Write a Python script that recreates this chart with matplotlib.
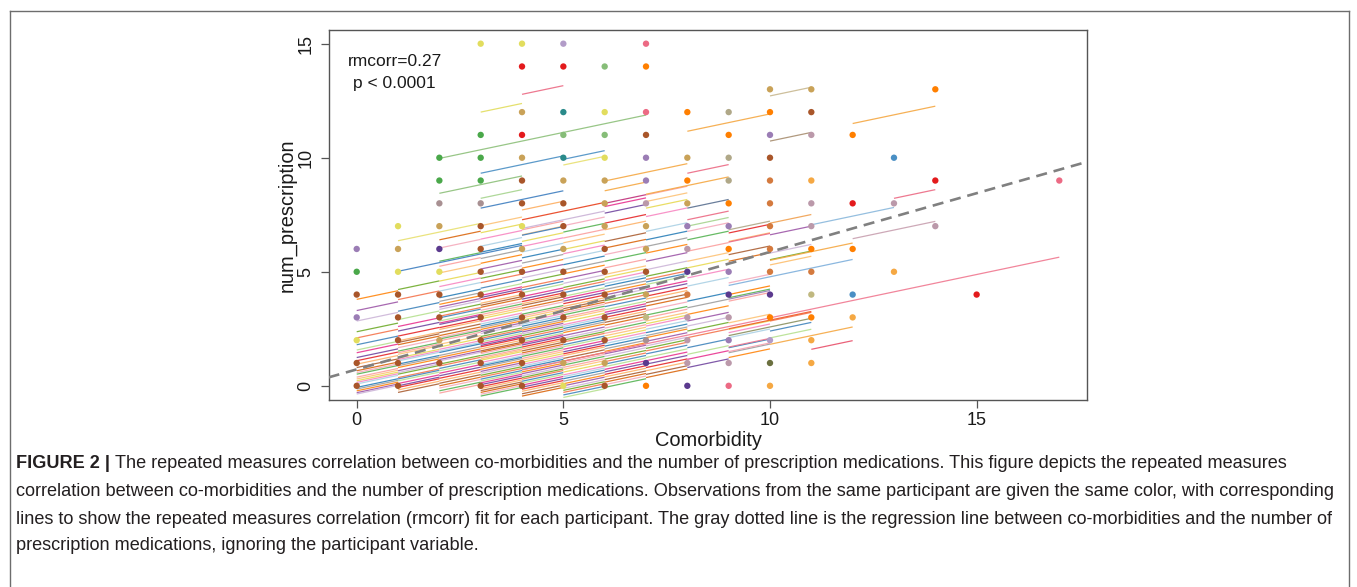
import matplotlib
matplotlib.use("Agg")
import matplotlib.pyplot as plt
from matplotlib.lines import Line2D

# ---------------- data ----------------
rm_label = "rmcorr=0.27"
p_label = "p < 0.0001"
rm_slope = 0.38          # common within-participant slope (rmcorr fit)
reg_intercept = 0.72     # overall regression (grey dashed)
reg_slope = 0.515

# observed points (top-most colour at each position)
dot_x = ([0]*7 + [1]*8 + [2]*10 + [3]*13 + [4]*15 + [5]*15 + [6]*14 + [7]*15 +
         [8]*12 + [9]*13 + [10]*14 + [11]*12 + [12]*5 + [13]*3 + [14]*3 + [15] + [17])
dot_y = ([0, 1, 2, 3, 4, 5, 6] +
         [0, 1, 2, 3, 4, 5, 6, 7] +
         [1, 2, 3, 4, 5, 6, 7, 8, 9, 10] +
         [0, 1, 2, 3, 4, 5, 6, 7, 8, 9, 10, 11, 15] +
         [0, 1, 2, 3, 4, 5, 6, 7, 8, 9, 10, 11, 12, 14, 15] +
         [0, 1, 2, 3, 4, 5, 6, 7, 8, 9, 10, 11, 12, 14, 15] +
         [0, 1, 2, 3, 4, 5, 6, 7, 8, 9, 10, 11, 12, 14] +
         [0, 1, 2, 3, 4, 5, 6, 7, 8, 9, 10, 11, 12, 14, 15] +
         [0, 1, 2, 3, 4, 5, 6, 7, 8, 9, 10, 12] +
         [0, 1, 2, 3, 4, 5, 6, 7, 8, 9, 10, 11, 12] +
         [0, 1, 2, 3, 4, 5, 6, 7, 8, 9, 10, 11, 12, 13] +
         [1, 2, 3, 4, 5, 6, 7, 8, 9, 11, 12, 13] +
         [3, 4, 6, 8, 11] +
         [5, 8, 10] +
         [7, 9, 13] +
         [4] + [9])
dot_key = (["br", "br", "yl", "pu", "br", "gn", "pu"] +
           ["br", "br", "br", "br", "br", "yl", "tn", "yl"] +
           ["br", "tn", "br", "br", "yl", "dp", "tn", "gb", "gn", "gn"] +
           ["br", "br", "br", "br", "br", "br", "br", "br", "gb", "gn", "gn", "gn", "yl"] +
           ["br", "br", "br", "br", "br", "br", "tn", "yl", "br", "br", "tn", "rd", "tn", "rd", "yl"] +
           ["yl", "tn", "br", "br", "br", "br", "tn", "br", "br", "tn", "tl", "lg", "tl", "rd", "lp"] +
           ["br", "tn", "br", "br", "br", "br", "br", "tn", "tn", "tn", "yl", "lg", "yl", "lg"] +
           ["or", "dp", "gb", "kh", "tn", "br", "tn", "tn", "gp", "pu", "pu", "br", "pk", "or", "pk"] +
           ["dp", "gp", "gp", "gp", "bo", "dp", "gp", "pu", "tn", "or", "tn", "or"] +
           ["pk", "gp", "pu", "gp", "dp", "pu", "or", "pu", "or", "gt", "gt", "or", "gt"] +
           ["lo", "ol", "lp", "or", "dp", "bo", "bo", "bo", "bo", "bo", "br", "pu", "or", "tn"] +
           ["lo", "lo", "or", "kh", "bo", "or", "gp", "gp", "lo", "gp", "br", "tn"] +
           ["lo", "bl", "or", "rd", "or"] +
           ["lo", "gp", "bl"] +
           ["gp", "rd", "or"] +
           ["rd"] + ["pk"])

# participant fit lines spanning one comorbidity step, by starting comorbidity
# (value = fitted num_prescription at the starting comorbidity)
dense_col0 = [3.79, 3.30, 2.84, 2.37, 2.10, 1.80, 1.57, 1.45, 1.24, 1.10, 0.95, 0.80, 0.66, 0.58, 0.51, 0.38,
              0.30, 0.22, 0.15, 0.08, -0.07, -0.14, -0.22, -0.30, -0.36]
dense_col1 = [4.22, 3.78, 3.27, 2.90, 2.60, 2.40, 2.18, 1.97, 1.90, 1.80, 1.67, 1.52, 1.45, 1.38, 1.22, 1.15,
              1.09, 0.95, 0.88, 0.80, 0.66, 0.58, 0.51, 0.36, 0.30, 0.22, 0.10, 0.00, -0.07, -0.18, -0.29]
dense_col2 = [6.40, 6.04, 5.46, 5.24, 4.95, 4.59, 4.35, 4.15, 3.86, 3.70, 3.57, 3.45, 3.35, 3.20, 3.05, 2.98,
              2.84, 2.75, 2.69, 2.55, 2.47, 2.33, 2.20, 2.11, 2.05, 1.97, 1.82, 1.70, 1.60, 1.52, 1.46, 1.33,
              1.24, 1.15, 1.09, 0.95, 0.87, 0.76, 0.66, 0.55, 0.44, 0.33, 0.22, 0.11, 0.00, -0.10, -0.22, -0.32]
dense_col3 = [7.02, 6.71, 6.43, 6.12, 5.86, 5.58, 5.37, 5.12, 4.88, 4.71, 4.52, 4.28, 4.10, 3.96, 3.87, 3.78,
              3.62, 3.53, 3.44, 3.31, 3.21, 3.12, 3.03, 2.94, 2.81, 2.71, 2.62, 2.55, 2.47, 2.38, 2.29, 2.16,
              2.08, 2.01, 1.92, 1.84, 1.77, 1.71, 1.62, 1.53, 1.47, 1.41, 1.32, 1.24, 1.18, 1.12, 1.02, 0.93,
              0.87, 0.81, 0.72, 0.63, 0.55, 0.46, 0.38, 0.29, 0.21, 0.13, 0.05, -0.04, -0.12, -0.21, -0.29,
              -0.37, -0.45]
dense_col4 = [6.84, 6.62, 6.33, 6.11, 5.87, 5.61, 5.38, 5.16, 4.94, 4.73, 4.52, 4.31, 4.20, 4.08, 3.91, 3.80,
              3.69, 3.60, 3.52, 3.40, 3.30, 3.14, 3.06, 2.98, 2.88, 2.79, 2.70, 2.61, 2.52, 2.44, 2.36, 2.28,
              2.20, 2.11, 2.02, 1.93, 1.86, 1.79, 1.70, 1.62, 1.53, 1.44, 1.37, 1.29, 1.20, 1.12, 1.03, 0.94,
              0.86, 0.78, 0.70, 0.61, 0.53, 0.44, 0.36, 0.29, 0.20, 0.12, 0.03, -0.06, -0.15, -0.24, -0.35,
              -0.45]
dense_col5 = [7.02, 6.74, 6.48, 6.27, 5.98, 5.79, 5.56, 5.31, 5.08, 4.91, 4.68, 4.49, 4.31, 4.20, 4.08, 3.92,
              3.82, 3.71, 3.60, 3.48, 3.38, 3.29, 3.20, 3.11, 3.00, 2.92, 2.80, 2.68, 2.60, 2.51, 2.42, 2.33,
              2.20, 2.09, 2.00, 1.92, 1.80, 1.71, 1.60, 1.49, 1.40, 1.32, 1.20, 1.08, 1.00, 0.91, 0.81, 0.72,
              0.60, 0.48, 0.40, 0.31, 0.20, 0.09, 0.00, -0.11, -0.20, -0.29, -0.40, -0.51]
dense_col6 = [7.86, 7.57, 7.13, 6.84, 6.33, 6.04, 5.75, 5.46, 5.17, 4.88, 4.75, 4.61, 4.48, 4.36, 4.22, 4.09,
              3.98, 3.86, 3.73, 3.61, 3.47, 3.33, 3.22, 3.12, 3.00, 2.89, 2.78, 2.66, 2.53, 2.41, 2.30, 2.19,
              2.07, 1.96, 1.85, 1.74, 1.62, 1.51, 1.40, 1.29, 1.17, 1.06, 0.95, 0.84, 0.72, 0.61, 0.50, 0.39,
              0.27, 0.16, 0.05, -0.07]
dense_col7 = [8.37, 8.08, 7.79, 7.42, 6.77, 6.40, 6.11, 5.82, 5.46, 5.09, 4.80, 4.66, 4.55, 4.44, 4.22, 4.10,
              3.93, 3.80, 3.64, 3.50, 3.30, 3.10, 2.98, 2.84, 2.72, 2.62, 2.48, 2.33, 2.20, 2.11, 1.95, 1.75,
              1.64, 1.53, 1.40, 1.24, 1.10, 0.95, 0.80, 0.66, 0.50, 0.36]
dense_col8 = [6.77, 6.40, 5.90, 5.46, 5.17, 4.73, 4.37, 3.71, 3.42, 3.13, 2.84, 2.62, 2.40, 2.11, 1.67, 1.38,
              1.16, 0.80]
dense_col9 = [6.70, 6.33, 5.75, 5.46, 4.51, 3.86, 3.71, 2.76, 2.47, 2.33, 2.11, 1.67, 1.45, 1.24]
dense_col10 = [6.62, 5.82, 5.53, 2.84, 2.40, 2.10]

# individually identified participant lines: start, end comorbidity, fitted value at start
seg_x0 = [2, 2, 3, 3, 4, 3, 3, 4, 5, 5, 6, 6, 6, 4, 4, 4, 10, 8, 12, 10, 8, 7, 8, 8, 11, 13, 10, 9, 12, 8,
          9, 10, 10, 9, 9, 9, 4, 1, 1, 9, 9, 10, 11, 9, 9]
seg_x1 = [7, 4, 5, 4, 5, 4, 5, 5, 6, 6, 8, 7, 7, 6, 6, 5, 11, 10, 14, 11, 9, 9, 9, 9, 13, 14, 11, 10, 14, 9,
          10, 12, 11, 12, 10, 10, 17, 3, 4, 11, 11, 12, 12, 10, 10]
seg_y0 = [9.97, 8.44, 9.32, 12.0, 12.78, 8.22, 7.79, 7.71, 9.68, 9.93, 8.98, 8.55, 8.0, 7.28, 6.9, 6.6,
          12.71, 11.16, 11.5, 10.73, 9.32, 8.4, 7.79, 7.28, 7.06, 8.22, 7.13, 6.84, 6.45, 7.0,
          6.3, 5.5, 5.3, 4.4, 4.0, 3.8, 0.7, 6.36, 5.02, 2.5, 2.2, 1.82, 1.6, 1.7, 1.5]

# ---------------- styles ----------------
dot_colors = {"br": "#a9562a", "tn": "#c9a258", "yl": "#e2dd5e", "pu": "#9b7db5", "dp": "#5b3a8e",
              "gn": "#4aa84a", "lg": "#86bd78", "gb": "#a89092", "gp": "#bb99aa", "rd": "#e31a1c",
              "or": "#ff7f00", "lo": "#f5a843", "bo": "#d47a3e", "tl": "#2a8a8a", "bl": "#4a8fc4",
              "pk": "#ec6a84", "ol": "#6b7040", "kh": "#c0b880", "lp": "#b29cc8", "gt": "#b0a888"}
seg_colors = ["#8dc07a", "#8dc07a", "#4a8fc4", "#e2dd5e", "#ec6a84", "#a6d48e", "#3f7fc0", "#fdae61",
              "#e8e070", "#4a8fc4", "#f5a843", "#f5a843", "#c0307a", "#e8401c", "#cab2d6", "#3f7fc0",
              "#c8b890", "#f5a843", "#f5a843", "#a88e70", "#ec6a84", "#f5a843", "#5a7090", "#ec6a84",
              "#8ab8dc", "#ec6a84", "#f0a050", "#b0a888", "#c8a0b0", "#a6d48e",
              "#ec6a84", "#f5a843", "#fdbf6f", "#7fb0dc", "#ff7f00", "#9b7db5", "#f07890", "#e8e070",
              "#3f7fc0", "#f05a28", "#8a9060", "#f5a843", "#e8506a", "#f07890", "#f4a0b0"]
dense_palette = ["#ff7f00", "#e41a1c", "#f781bf", "#377eb8", "#4daf4a", "#984ea3", "#fdae61", "#a6cee3",
                 "#b2df8a", "#fb9a99", "#cab2d6", "#a65628", "#1f78b4", "#e7298a", "#fdbf6f", "#66a61e",
                 "#d95f02", "#999999", "#6a3d9a", "#e6d84a", "#f46d43", "#f4a6b8"]

W, H = 1357, 587
fig = plt.figure(figsize=(W / 100, H / 100), dpi=100)
plt.rcParams["font.family"] = ["Liberation Sans", "DejaVu Sans"]

ax_l, ax_r, ax_t, ax_b = 328.6, 1087.4, 30.0, 399.5
ax = fig.add_axes([ax_l / W, 1 - ax_b / H, (ax_r - ax_l) / W, (ax_b - ax_t) / H])
ax.set_xlim(-0.68, 17.68)
ax.set_ylim(-0.6, 15.6)

dense_cols = [dense_col0, dense_col1, dense_col2, dense_col3, dense_col4, dense_col5,
              dense_col6, dense_col7, dense_col8, dense_col9, dense_col10]
k = 0
for start, col in enumerate(dense_cols):
    for y0 in col:
        c = dense_palette[(k * 5) % len(dense_palette)]
        k += 1
        ax.plot([start, start + 1], [y0, y0 + rm_slope], color=c, lw=0.9, alpha=0.85,
                solid_capstyle="butt", zorder=2)

for x0, x1, y0, c in zip(seg_x0, seg_x1, seg_y0, seg_colors):
    ax.plot([x0, x1], [y0, y0 + rm_slope * (x1 - x0)], color=c, lw=0.9, alpha=0.9,
            solid_capstyle="butt", zorder=2)

ax.axline((0, reg_intercept), slope=reg_slope, color="#808080", lw=1.9,
          dashes=(4.2, 2.6), zorder=3)

ax.scatter(dot_x, dot_y, s=21, c=[dot_colors[k_] for k_ in dot_key], linewidths=0, zorder=4)

ax.text(0.92, 14.2, rm_label, ha="center", va="center", fontsize=12.5, color="#1a1a1a")
ax.text(0.92, 13.25, p_label, ha="center", va="center", fontsize=12.5, color="#1a1a1a")

for sp in ax.spines.values():
    sp.set_color("#555555")
    sp.set_linewidth(1.0)
ax.set_xticks([0, 5, 10, 15])
ax.set_yticks([0, 5, 10, 15])
ax.tick_params(length=6, width=0.9, color="#555555", labelsize=13, labelcolor="#1a1a1a")
ax.tick_params(axis="x", pad=3)
ax.tick_params(axis="y", pad=4)
for lab in ax.get_yticklabels():
    lab.set_rotation(90)
    lab.set_va("center")
ax.set_xlabel("Comorbidity", fontsize=14.4, color="#1a1a1a")
ax.set_ylabel("num_prescription", fontsize=14.4, color="#1a1a1a")
ax.xaxis.set_label_coords(0.5, -0.085)
ax.yaxis.set_label_coords(-0.042, 0.5)

# outer frame
for xs, ys in [([9.5, 9.5], [587, 10.5]), ([9.5, 1348.5], [10.5, 10.5]), ([1348.5, 1348.5], [10.5, 587])]:
    fig.add_artist(Line2D([x / W for x in xs], [1 - y / H for y in ys], color="#6d6d6d", lw=1.0))

# caption
cap_fs = 13.1
cap_col = "#231f20"
lines = [
    "The repeated measures correlation between co-morbidities and the number of prescription medications. This figure depicts the repeated measures",
    "correlation between co-morbidities and the number of prescription medications. Observations from the same participant are given the same color, with corresponding",
    "lines to show the repeated measures correlation (rmcorr) fit for each participant. The gray dotted line is the regression line between co-morbidities and the number of",
    "prescription medications, ignoring the participant variable.",
]
ys = [464, 491.5, 519, 546]
renderer = fig.canvas.get_renderer()
t0 = fig.text(16 / W, 1 - ys[0] / H, "FIGURE 2 |", fontsize=cap_fs, weight="bold", color=cap_col, va="center")
bb = t0.get_window_extent(renderer)
fig.text((bb.x1 + 5) / W, 1 - ys[0] / H, lines[0], fontsize=cap_fs, color=cap_col, va="center")
for s, y in zip(lines[1:], ys[1:]):
    fig.text(16 / W, 1 - y / H, s, fontsize=cap_fs, color=cap_col, va="center")

fig.savefig("out.png", dpi=100)
